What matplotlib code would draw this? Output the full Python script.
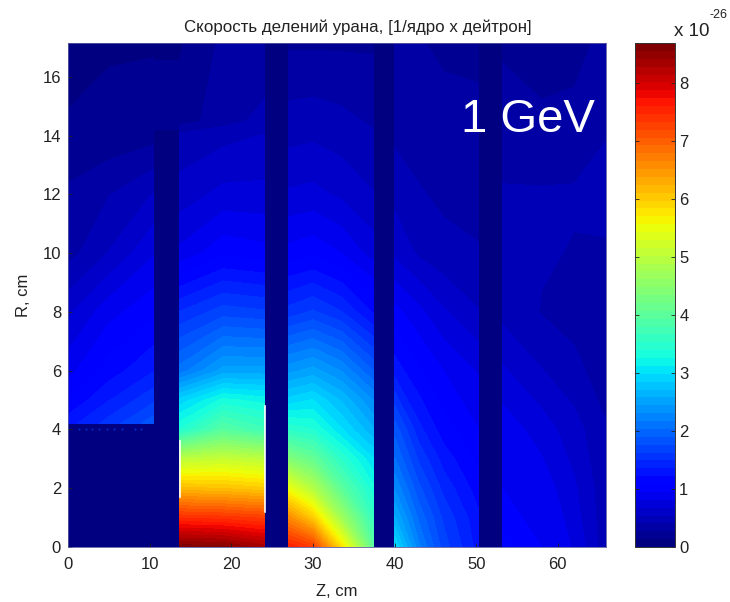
import numpy as np
import matplotlib
matplotlib.use('Agg')
import matplotlib.pyplot as plt

plt.rcParams['font.family'] = ['Liberation Sans', 'DejaVu Sans']

vmax = 8.69

# fission rate, units of 1e-26, each block is one uranium section
z_a = [0, 5, 10.5]
r_a = [4.2, 5, 6, 8, 10, 12, 14, 17.15]
rate_a = [[1.3, 1.55, 1.85],
          [1.1, 1.35, 1.6],
          [0.9, 1.15, 1.35],
          [0.65, 0.9, 1.05],
          [0.35, 0.55, 0.8],
          [0.3, 0.4, 0.55],
          [0.15, 0.18, 0.22],
          [0.1, 0.12, 0.12]]

z_top = [10.5, 13.7]
r_top = [14.2, 17.15]
rate_top = [[0.2, 0.2],
            [0.12, 0.12]]

z_b = [13.7, 19, 24.1]
r_b = [0, 1, 2, 3, 4, 5, 6, 8, 10, 12, 14, 14.5, 17.15]
rate_b = [[8.65, 8.6, 8.35],
          [7.45, 7.4, 7.3],
          [6.15, 6.1, 6.0],
          [5.0, 5.1, 5.0],
          [3.4, 3.95, 3.7],
          [2.9, 3.3, 3.2],
          [2.1, 2.5, 2.5],
          [1.5, 1.7, 1.65],
          [0.85, 1.05, 1.0],
          [0.6, 0.72, 0.72],
          [0.45, 0.5, 0.55],
          [0.2, 0.35, 0.45],
          [0.12, 0.3, 0.3]]

z_c = [27, 30, 33.5, 37.4]
r_c = [0, 1, 2, 3, 4, 5, 6, 8, 10, 12, 14, 17.15]
rate_c = [[7.6, 7.3, 5.8, 4.0],
          [6.6, 6.0, 4.7, 3.6],
          [5.5, 4.9, 4.0, 3.3],
          [4.4, 4.1, 3.5, 3.0],
          [3.5, 3.4, 3.0, 2.6],
          [2.9, 3.0, 2.7, 2.3],
          [2.4, 2.5, 2.3, 1.9],
          [1.55, 1.65, 1.5, 1.2],
          [1.0, 1.05, 0.95, 0.75],
          [0.7, 0.72, 0.65, 0.55],
          [0.5, 0.52, 0.48, 0.42],
          [0.25, 0.25, 0.25, 0.25]]

z_d = [40, 43, 46, 50.3]
r_d = [0, 1, 2, 3, 4, 6, 8, 10, 12, 14, 17.15]
rate_d = [[3.0, 2.2, 1.7, 1.3],
          [2.6, 2.0, 1.6, 1.25],
          [2.3, 1.8, 1.45, 1.15],
          [2.05, 1.6, 1.3, 1.05],
          [1.85, 1.4, 1.15, 0.95],
          [1.3, 1.1, 0.95, 0.8],
          [1.0, 0.85, 0.7, 0.55],
          [0.65, 0.52, 0.45, 0.42],
          [0.5, 0.42, 0.38, 0.35],
          [0.38, 0.35, 0.32, 0.3],
          [0.3, 0.28, 0.25, 0.25]]

z_e = [53.2, 58, 62, 65.9]
r_e = [0, 2, 4, 6, 8, 10, 12, 14, 17.15]
rate_e = [[1.15, 0.95, 0.8, 0.45],
          [0.95, 0.9, 0.7, 0.45],
          [0.9, 0.75, 0.6, 0.42],
          [0.7, 0.55, 0.45, 0.33],
          [0.5, 0.4, 0.35, 0.3],
          [0.45, 0.42, 0.4, 0.38],
          [0.42, 0.42, 0.42, 0.48],
          [0.35, 0.33, 0.35, 0.4],
          [0.25, 0.18, 0.2, 0.33]]

sections = [(z_a, r_a, rate_a), (z_top, r_top, rate_top), (z_b, r_b, rate_b),
            (z_c, r_c, rate_c), (z_d, r_d, rate_d), (z_e, r_e, rate_e)]

# thin white slivers at the section edges
sliver_z = [13.7, 24.1]
sliver_r0 = [1.7, 1.2]
sliver_r1 = [3.6, 4.8]

# stray dots under the first section
dot_z = [1.35, 2.2, 3.0, 3.8, 4.8, 5.6, 6.6, 8.2, 9.0]
dot_r = [4.0, 4.0, 4.0, 4.0, 4.0, 4.0, 4.0, 4.0, 4.0]

x_ticks = [0, 10, 20, 30, 40, 50, 60]
y_ticks = [0, 2, 4, 6, 8, 10, 12, 14, 16]
cbar_ticks = [0, 1, 2, 3, 4, 5, 6, 7, 8]

levels = np.linspace(0, vmax, 65)
jet = plt.get_cmap('jet', 64)

fig = plt.figure(figsize=(7.30, 6.02), dpi=100)
ax = fig.add_axes([68 / 730, 1 - 547 / 602, 538 / 730, 504 / 602])
ax.set_facecolor(jet(0))

# draw each section on its own so the gaps stay dark
for z, r, rate in sections:
    cs = ax.contourf(z, r, rate, levels=levels, cmap=jet, vmin=0, vmax=vmax)

for i in range(len(sliver_z)):
    ax.plot([sliver_z[i], sliver_z[i]], [sliver_r0[i], sliver_r1[i]], color='white', lw=1.2)
ax.scatter(dot_z, dot_r, s=2, color='#0030d0', linewidths=0)

ax.set_xlim(0, 65.9)
ax.set_ylim(0, 17.15)
ax.set_xticks(x_ticks)
ax.set_yticks(y_ticks)
ax.tick_params(direction='in', length=3, width=0.6, labelsize=12, colors='#222222', pad=5)
ax.tick_params(axis='x', pad=7)
ax.set_xlabel('Z, cm', fontsize=12, color='#222222', labelpad=9)
ax.set_ylabel('R, cm', fontsize=12, color='#222222', labelpad=8)
ax.set_title('Скорость делений урана, [1/ядро x дейтрон]', fontsize=12.2, color='#222222',
             pad=8, x=0.538)
for s in ax.spines.values():
    s.set_color('#5a5aa0')
    s.set_linewidth(0.6)

ax.text(527 / 538, 1 - 77 / 504, '1 GeV', transform=ax.transAxes, color='white',
        fontsize=34, ha='right', va='center')

cax = fig.add_axes([635 / 730, 1 - 547 / 602, 40 / 730, 504 / 602])
cb = fig.colorbar(cs, cax=cax, ticks=cbar_ticks)
cax.tick_params(direction='in', length=3, width=0.6, labelsize=12, colors='#222222',
                left=True, right=True, pad=3)
cb.outline.set_edgecolor('#333333')
cb.outline.set_linewidth(0.7)

fig.text(674 / 730, 1 - 31 / 602, 'x 10', fontsize=13.5, color='#222222', va='center')
fig.text(710 / 730, 1 - 15 / 602, '-26', fontsize=9, color='#222222', va='center')

fig.savefig('out.png', dpi=100)
